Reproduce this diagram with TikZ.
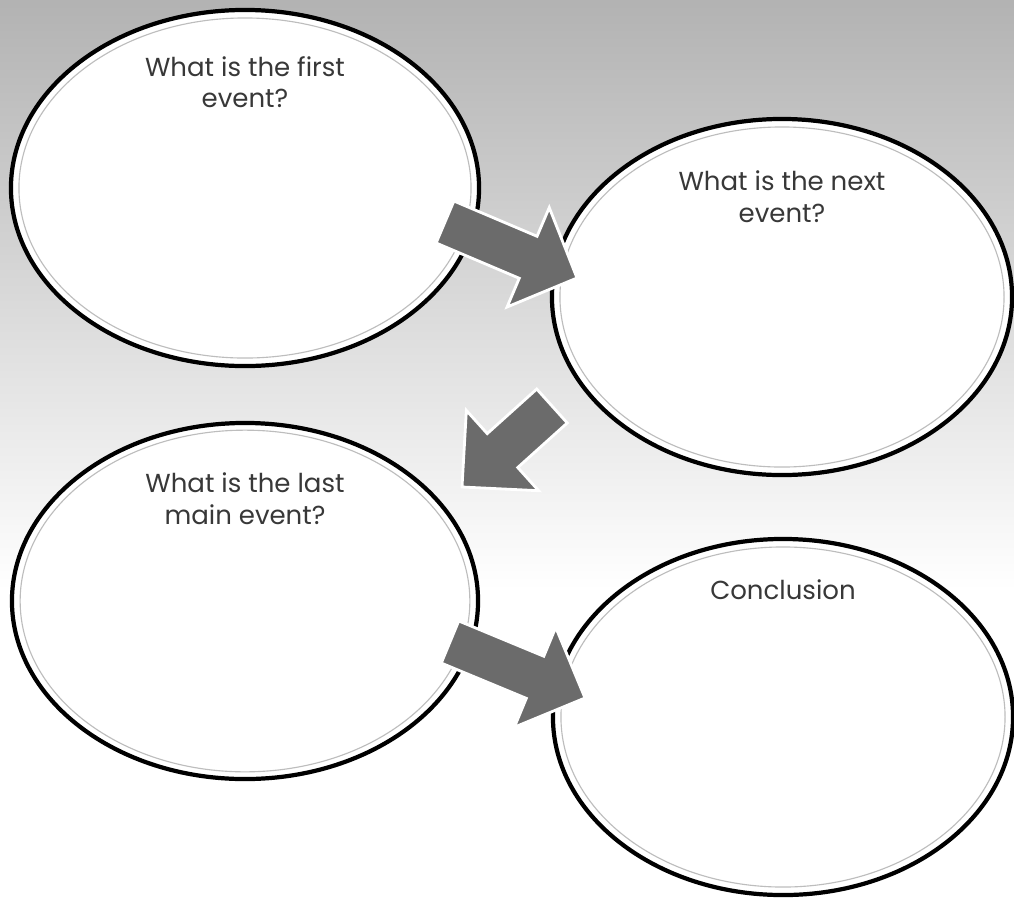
\documentclass[tikz,border=0pt]{standalone}
\usepackage{fontspec}
\setmainfont{Poppins}
\usetikzlibrary{shapes.geometric,calc,positioning}
\definecolor{flowInk}{HTML}{383838}
\definecolor{flowArrow}{HTML}{6B6B6B}
\definecolor{flowRing}{HTML}{BDBDBD}

% block arrow from tail coordinate to tip coordinate; #3 = where the head starts
\newcommand{\flowarrow}[3]{%
  \coordinate (m) at ($(#1)!#3!(#2)$);
  \filldraw[blockarrow] ($(#1)!0.57cm!90:(#2)$) -- ($(m)!0.57cm!90:(#2)$)
    -- ($(m)!1.35cm!90:(#2)$) -- (#2) -- ($(m)!1.35cm!-90:(#2)$)
    -- ($(m)!0.57cm!-90:(#2)$) -- ($(#1)!0.57cm!-90:(#2)$) -- cycle;
}

\begin{document}
\begin{tikzpicture}[x=0.025cm,y=-0.025cm,font=\fontsize{18.5}{22.7}\selectfont]
    \tikzset{bubble/.style={ellipse,draw=black,line width=3pt,fill=white,minimum width=11.6cm,minimum height=8.9cm,inner sep=0pt},
      ring/.style={draw=flowRing,line width=0.8pt},
      prompt/.style={align=center,text=flowInk,inner sep=0pt},
      blockarrow/.style={fill=flowArrow,draw=white,line width=2pt,line join=miter}}
    \useasboundingbox (0,0) rectangle (1014,897);
    \fill[white] (0,0) rectangle (1014,897);
    \shade[top color=black!30,middle color=black!17,bottom color=white] (0,0) rectangle (1014,590);
    \node[bubble,minimum width=11.7cm] (e1) at (245,188) {};
    \node[bubble,minimum width=11.5cm] (e2) at (782,297) {};
    \node[bubble,minimum width=11.65cm] (e3) at (245,601) {};
    \node[bubble,minimum width=11.5cm] (e4) at (783,717) {};
    \draw[ring] (e1.center) ellipse [x radius=5.65cm,y radius=4.25cm];
    \draw[ring] (e2.center) ellipse [x radius=5.55cm,y radius=4.25cm];
    \draw[ring] (e3.center) ellipse [x radius=5.62cm,y radius=4.27cm];
    \draw[ring] (e4.center) ellipse [x radius=5.55cm,y radius=4.25cm];
    \node[prompt,below=1.2cm of e1.north] (q1) {What is the first\\ event?};
    \node[prompt,below=1.35cm of e2.north] (q2) {What is the next\\ event?};
    \node[prompt,below=1.3cm of e3.north] (q3) {What is the last\\ main event?};
    \node[prompt,below=1.07cm of e4.north] (q4) {Conclusion};
    % arrows between the bubbles
    \coordinate (t1) at (445,222); \coordinate (h1) at (577,278);
    \coordinate (t2) at (552,406); \coordinate (h2) at (462,487);
    \coordinate (t3) at (450,642); \coordinate (h3) at (585,698);
    \flowarrow{t1}{h1}{0.63}
    \flowarrow{t2}{h2}{0.55}
    \flowarrow{t3}{h3}{0.63}
\end{tikzpicture}
\end{document}
